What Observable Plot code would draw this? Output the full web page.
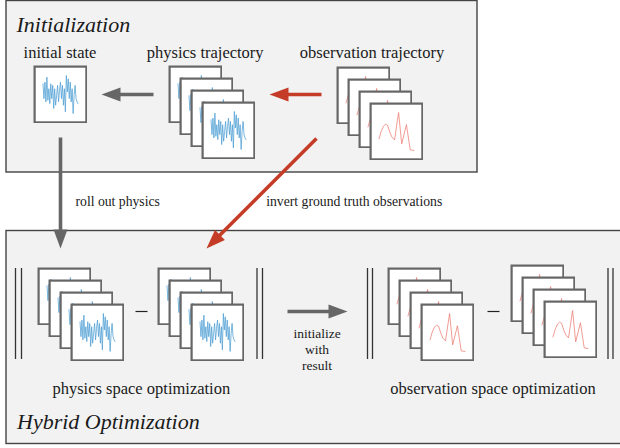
<!DOCTYPE html>
<html><head><meta charset="utf-8">
<script src="https://cdn.jsdelivr.net/npm/d3@7"></script>
<script src="https://cdn.jsdelivr.net/npm/@observablehq/plot@0.6"></script>
<style>
body{margin:0;background:#fff;}
#wrap{position:relative;width:620px;height:448px;overflow:hidden;}
#wrap svg{position:absolute;}
#wrap text{font-family:"Liberation Serif","Times New Roman",Times,serif;}
</style></head><body><div id="wrap"></div>
<script>
// ---- data ----
const blueSignal = [95, 50, 100, 40, 115, 45, 80, 35, 95, 50, 90, 20, 80, 30, 60, 90, 40, 75, 100, 50, 90, 30, 80, 10, 120, 70, 110, 50, 100, 40, 80, 5, 60, 90, 50, 40, 35];
const redTime   = [0, 2.2, 4.7, 7, 9, 11.4, 13.7, 16.4, 20.7, 24, 29, 33, 37];
const redSignal = [11.7, 19, 24.5, 26.5, 25.5, 18.5, 13.5, 10.7, 38.3, 6.7, 26, 0.7, 0];
const sectionTitles = ["Initialization", "Hybrid Optimization"];
const stateLabels = ["initial state", "physics trajectory", "observation trajectory"];
const arrowLabels = ["roll out physics", "invert ground truth observations"];
const initLabel = ["initialize", "with", "result"];
const spaceLabels = ["physics space optimization", "observation space optimization"];

// ---- layout ----
const GRAY = "#666", RED = "#c43c27", INK = "#1a1a1a", SERIF = "Liberation Serif";
const head = (len, half) => ({draw(ctx){ctx.moveTo(0,0);ctx.lineTo(-half,len);ctx.lineTo(half,len);ctx.closePath();}});
const arrows = [
  {x1:153,y1:94,x2:118,y2:94,tx:101,ty:94,rot:270,c:GRAY},
  {x1:321,y1:94,x2:286,y2:94,tx:269,ty:94,rot:270,c:RED},
  {x1:60,y1:137,x2:60,y2:231,tx:60,ty:248,rot:180,c:GRAY},
  {x1:316,y1:138,x2:218,y2:236,tx:206,ty:248,rot:225,c:RED},
  {x1:287,y1:311,x2:330,y2:311,tx:347,ty:311,rot:90,c:GRAY}
];
const txt = (data, o) => Plot.text(data, {fontFamily:SERIF, fill:INK, lineAnchor:"bottom", ...o});

const marks = [
  Plot.rect([{a:6,b:477,c:0.5,d:172}], {x1:"a",x2:"b",y1:"c",y2:"d",fill:"#f2f2f2",stroke:"#444",strokeWidth:1.4}),
  Plot.rect([{a:6,b:640,c:230.5,d:443.5}], {x1:"a",x2:"b",y1:"c",y2:"d",fill:"#f2f2f2",stroke:"#444",strokeWidth:1.4}),
  ...arrows.map(a => Plot.link([a], {x1:"x1",y1:"y1",x2:"x2",y2:"y2",stroke:a.c,strokeWidth:3.6})),
  ...arrows.map(a => Plot.dot([a], {x:"tx",y:"ty",symbol:head(19,7),rotate:a.rot,fill:a.c,stroke:null})),
  Plot.ruleX([15, 21, 256.5, 262, 367, 372, 607.5, 612.5], {y1:268, y2:359, stroke:"#333", strokeWidth:1.3}),
  Plot.link([{a:135,b:147},{a:487,b:499}], {x1:"a",x2:"b",y1:()=>311,y2:()=>311,stroke:"#222",strokeWidth:1.2}),
  txt([sectionTitles[0]], {x:()=>16, y:()=>31, text:d=>d, textAnchor:"start", fontSize:22, fontStyle:"italic"}),
  txt([sectionTitles[1]], {x:()=>16.5, y:()=>428, text:d=>d, textAnchor:"start", fontSize:22, fontStyle:"italic"}),
  txt(stateLabels, {x:(d,i)=>[59.5,204.7,371.5][i], y:()=>57, text:d=>d, fontSize:16.5}),
  txt(arrowLabels, {x:(d,i)=>[75,265.7][i], y:()=>205, text:d=>d, textAnchor:"start", fontSize:13.7}),
  txt(initLabel, {x:()=>316.5, y:(d,i)=>[337,353,369][i], text:d=>d, fontSize:13.5}),
  txt(spaceLabels, {x:(d,i)=>[140.8,492.5][i], y:()=>393, text:d=>d, fontSize:16.5})
];

const wrap = document.getElementById("wrap");
const main = Plot.plot({width:620, height:448, margin:0,
  x:{type:"identity", axis:null}, y:{type:"identity", axis:null}, marks});
main.style.left = "0px"; main.style.top = "0px";
wrap.appendChild(main);

function mini(kind){
  const line = kind === "blue"
    ? Plot.line(blueSignal, {x:(d,i)=>i, y:d=>d, stroke:"#4f9fd4", strokeWidth:0.75})
    : Plot.line(redSignal, {x:redTime, y:redSignal, stroke:"#ec7b70", strokeWidth:0.75});
  return Plot.plot({width:54, height:58, margin:0,
    x:{axis:null, inset:9.5}, y:{axis:null, insetTop:10, insetBottom:10},
    marks:[Plot.frame({fill:"white", stroke:GRAY, strokeWidth:2.2, inset:1.1}), line]});
}
function place(svg, x, y){ svg.style.left = x+"px"; svg.style.top = y+"px"; wrap.appendChild(svg); }
const stacks = [
  {x:33, y:65, n:1, kind:"blue"},
  {x:167.5, y:65, n:4, kind:"blue"},
  {x:335.5, y:65.5, n:4, kind:"red"},
  {x:36.5, y:266.5, n:4, kind:"blue"},
  {x:156.5, y:266.5, n:4, kind:"blue"},
  {x:386.5, y:267, n:4, kind:"red"},
  {x:510, y:264, n:4, kind:"red"}
];
for (const s of stacks) for (let k = 0; k < s.n; k++) place(mini(s.kind), Math.round(s.x + 11*k), Math.round(s.y + 12*k));
</script></body></html>
